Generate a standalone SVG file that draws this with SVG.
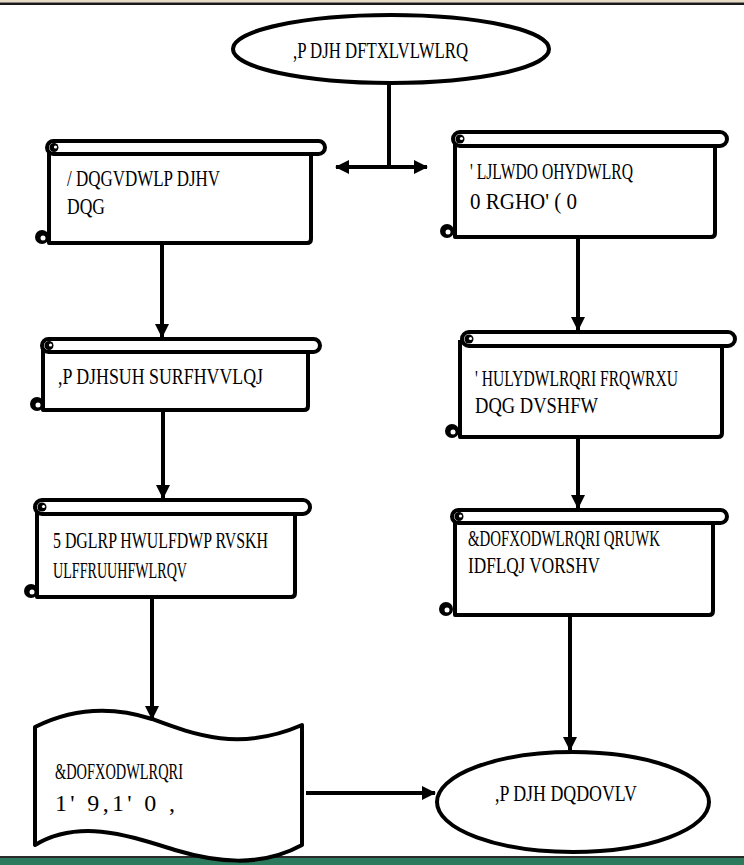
<svg xmlns="http://www.w3.org/2000/svg" width="744" height="865" viewBox="0 0 744 865">
<style>
.s{fill:#fff;stroke:#000;stroke-width:4;stroke-linejoin:round}
.c{fill:#000}
.w{fill:#fff}
.t{font-family:"Liberation Serif","Times New Roman",serif;font-size:24px;fill:#000}
.ln{fill:none;stroke:#000;stroke-width:4}
</style>
<defs>
<marker id="ah" viewBox="0 0 14 14" refX="13" refY="7" markerWidth="14" markerHeight="14" markerUnits="userSpaceOnUse" orient="auto-start-reverse">
<path d="M0,0 L14,7 L0,14 Z" fill="#000"/>
</marker>
</defs>
<rect x="0" y="0" width="744" height="865" fill="#fff"/>
<rect x="0" y="0" width="744" height="2.5" fill="#e9dcc6"/>
<rect x="0" y="2.5" width="744" height="2.5" fill="#1a1a1a"/>
<rect x="0" y="856" width="744" height="2" fill="#2a2a2a"/>
<rect x="0" y="858" width="744" height="7" fill="#2c7a5e"/>

<g id="connectors">
<path class="ln" d="M389,83 V167"/>
<path class="ln" d="M336,167 H427" marker-start="url(#ah)" marker-end="url(#ah)"/>
<path class="ln" d="M162,245 V337" marker-end="url(#ah)"/>
<path class="ln" d="M163,412 V498" marker-end="url(#ah)"/>
<path class="ln" d="M152,599 V719" marker-end="url(#ah)"/>
<path class="ln" d="M578,239 V330" marker-end="url(#ah)"/>
<path class="ln" d="M578,439 V508" marker-end="url(#ah)"/>
<path class="ln" d="M570,617 V750" marker-end="url(#ah)"/>
<path class="ln" d="M306,793 H435" marker-end="url(#ah)"/>
</g>

<g id="n-acq">
<ellipse class="s" cx="391" cy="49" rx="158" ry="34"/>
<text class="t" x="293" y="58" textLength="175" lengthAdjust="spacingAndGlyphs">,P DJH DFTXLVLWLRQ</text>
</g>

<g id="n-landsat">
<path class="s" d="M49,150 V243 H307 Q311,243 311,239 V154"/>
<rect class="s" x="47" y="141" width="278" height="13" rx="6.5"/>
<circle class="c" cx="54" cy="147.5" r="4.5"/><circle class="w" cx="55.5" cy="147" r="1.6"/>
<circle class="c" cx="42" cy="237" r="7"/><circle class="w" cx="43" cy="238" r="2.5"/>
<text class="t" x="67" y="186" textLength="153" lengthAdjust="spacingAndGlyphs">/ DQGVDWLP DJHV</text>
<text class="t" x="67" y="214" textLength="38" lengthAdjust="spacingAndGlyphs">DQG</text>
</g>

<g id="n-dem">
<path class="s" d="M455,140 V237 H711 Q715,237 715,233 V147"/>
<rect class="s" x="453" y="132" width="274" height="14" rx="7"/>
<circle class="c" cx="460" cy="139" r="4.5"/><circle class="w" cx="461.5" cy="138.5" r="1.6"/>
<circle class="c" cx="447" cy="231" r="7"/><circle class="w" cx="448" cy="232" r="2.5"/>
<text class="t" x="470" y="179" textLength="163" lengthAdjust="spacingAndGlyphs">' LJLWDO OHYDWLRQ</text>
<text class="t" x="470" y="209" textLength="107" lengthAdjust="spacingAndGlyphs">0 RGHO' ( 0</text>
</g>

<g id="n-preproc">
<path class="s" d="M43,346 V410 H304 Q308,410 308,406 V352"/>
<rect class="s" x="42" y="339" width="278" height="13" rx="6.5"/>
<circle class="c" cx="49" cy="345.5" r="4.5"/><circle class="w" cx="50.5" cy="345" r="1.6"/>
<circle class="c" cx="37" cy="404" r="7"/><circle class="w" cx="38" cy="405" r="2.5"/>
<text class="t" x="58" y="384" textLength="205" lengthAdjust="spacingAndGlyphs">,P DJHSUH SURFHVVLQJ</text>
</g>

<g id="n-contour">
<path class="s" d="M460,340 V437 H718 Q722,437 722,433 V347"/>
<rect class="s" x="462" y="332" width="273" height="14" rx="7"/>
<circle class="c" cx="469" cy="339" r="4.5"/><circle class="w" cx="470.5" cy="338.5" r="1.6"/>
<circle class="c" cx="452" cy="431" r="7"/><circle class="w" cx="453" cy="432" r="2.5"/>
<text class="t" x="475" y="386" textLength="203" lengthAdjust="spacingAndGlyphs">' HULYDWLRQRI FRQWRXU</text>
<text class="t" x="475" y="413" textLength="123" lengthAdjust="spacingAndGlyphs">DQG DVSHFW</text>
</g>

<g id="n-radio">
<path class="s" d="M37,508 V597 H291 Q295,597 295,593 V515"/>
<rect class="s" x="35" y="500" width="275" height="14" rx="7"/>
<circle class="c" cx="42" cy="507" r="4.5"/><circle class="w" cx="43.5" cy="506.5" r="1.6"/>
<circle class="c" cx="31" cy="591" r="7"/><circle class="w" cx="32" cy="592" r="2.5"/>
<text class="t" x="53" y="548" textLength="215" lengthAdjust="spacingAndGlyphs">5 DGLRP HWULFDWP RVSKH</text>
<text class="t" x="53" y="578" textLength="134" lengthAdjust="spacingAndGlyphs">ULFFRUUHFWLRQV</text>
</g>

<g id="n-north">
<path class="s" d="M455,517 V615 H709 Q713,615 713,611 V523"/>
<rect class="s" x="452" y="510" width="275" height="13" rx="6.5"/>
<circle class="c" cx="459" cy="516.5" r="4.5"/><circle class="w" cx="460.5" cy="516" r="1.6"/>
<circle class="c" cx="446" cy="609" r="7"/><circle class="w" cx="447" cy="610" r="2.5"/>
<text class="t" x="468" y="546" textLength="192" lengthAdjust="spacingAndGlyphs">&amp;DOFXODWLRQRI QRUWK</text>
<text class="t" x="468" y="573" textLength="132" lengthAdjust="spacingAndGlyphs">IDFLQJ VORSHV</text>
</g>

<g id="n-ndvi">
<path class="s" d="M35,727 C75,707 115,707 152,719 C195,735 240,752 302,725 V845 C260,868 215,862 175,850 C130,836 80,818 35,845 Z"/>
<text class="t" x="55" y="779" textLength="128" lengthAdjust="spacingAndGlyphs">&amp;DOFXODWLRQRI</text>
<text class="t" x="55" y="811" textLength="120" lengthAdjust="spacing">1' 9,1' 0 ,</text>
</g>

<g id="n-analysis">
<ellipse class="s" cx="573" cy="802" rx="136" ry="50"/>
<text class="t" x="495" y="801" textLength="142" lengthAdjust="spacingAndGlyphs">,P DJH DQDOVLV</text>
</g>
</svg>
